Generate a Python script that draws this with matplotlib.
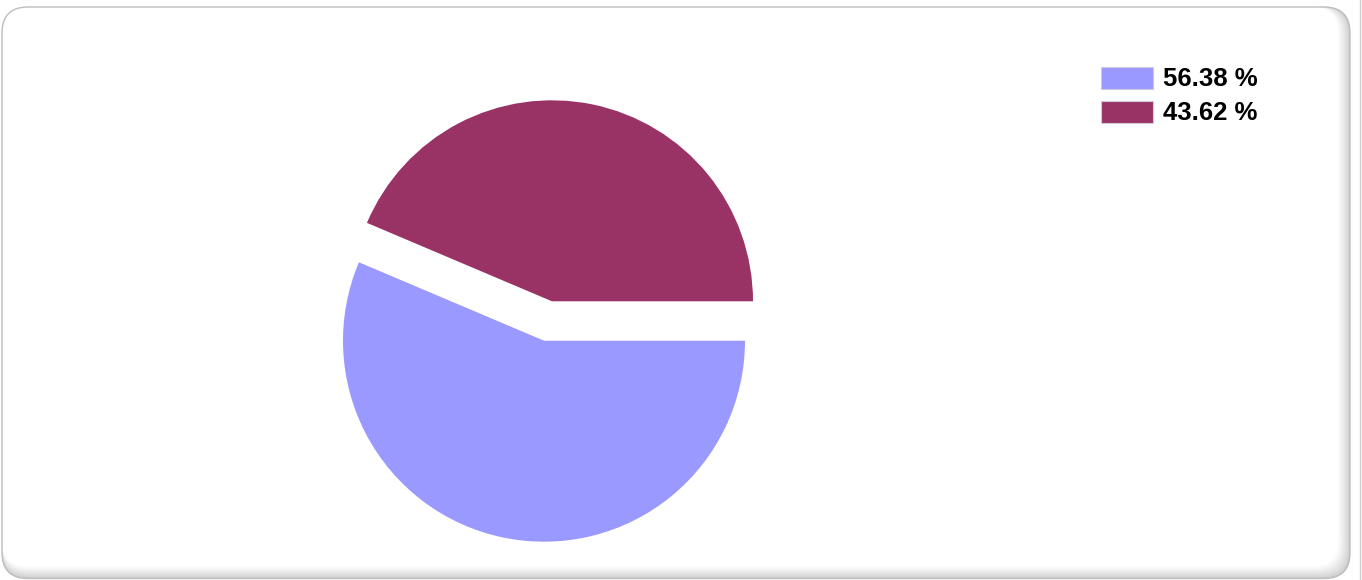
import matplotlib
matplotlib.use("Agg")
import matplotlib.pyplot as plt
from matplotlib.patches import FancyBboxPatch, Rectangle

# Data
labels = ["56.38 %", "43.62 %"]
values = [56.38, 43.62]
colors = ["#9999FF", "#993366"]
explode = [0.1, 0.1]

W, H = 1362, 580
fig = plt.figure(figsize=(W / 100, H / 100), dpi=100)
fig.patch.set_facecolor("white")

bg = fig.add_axes([0, 0, 1, 1])
bg.set_xlim(0, W)
bg.set_ylim(0, H)
bg.axis("off")

# Frame: rounded rect with inner shading toward right and bottom
x0, x1 = 2.0, 1350.0
ytop, ybot = 573.0, 1.5
n = 12
for k in range(n + 1):
    t = k / n
    g = 0.80 + 0.20 * (t ** 0.8)
    bg.add_patch(FancyBboxPatch((x0, ybot + k), (x1 - k) - x0, ytop - (ybot + k),
                                boxstyle="round,pad=0,rounding_size=26",
                                facecolor=(g, g, g), edgecolor="none"))
bg.add_patch(FancyBboxPatch((x0, ybot), x1 - x0, ytop - ybot,
                            boxstyle="round,pad=0,rounding_size=26",
                            facecolor="none", edgecolor="#BDBDBD", linewidth=1.0))
bg.plot([1359.5, 1359.5], [0, H], color="#D0D0D0", linewidth=1.0)

# Pie axes mapped so that radius 1 = 201 px
R = 201.0
cx, cy = 548.0, 321.0  # pixel center (y from top)
ax = fig.add_axes([0, 0, 1, 1])
ax.axis("off")
ax.patch.set_alpha(0)
ax.pie(values, colors=colors, explode=explode, startangle=0, counterclock=False,
       radius=1.0, center=(0, 0), wedgeprops=dict(linewidth=0))
ax.set_xlim(-cx / R, (W - cx) / R)
ax.set_ylim(-(H - cy) / R, cy / R)
ax.set_aspect("auto")

# Legend (manual)
ys = [67, 101]
for lab, col, y in zip(labels, colors, ys):
    bg.add_patch(Rectangle((1101, H - y - 22), 52, 22, facecolor=col,
                           edgecolor="#D0C8E0", linewidth=0.8))
    bg.text(1163, H - y - 12, lab, fontsize=18.5, fontweight="bold",
            family="Liberation Sans", va="center", ha="left", color="black")

fig.savefig("out.png", dpi=100)
